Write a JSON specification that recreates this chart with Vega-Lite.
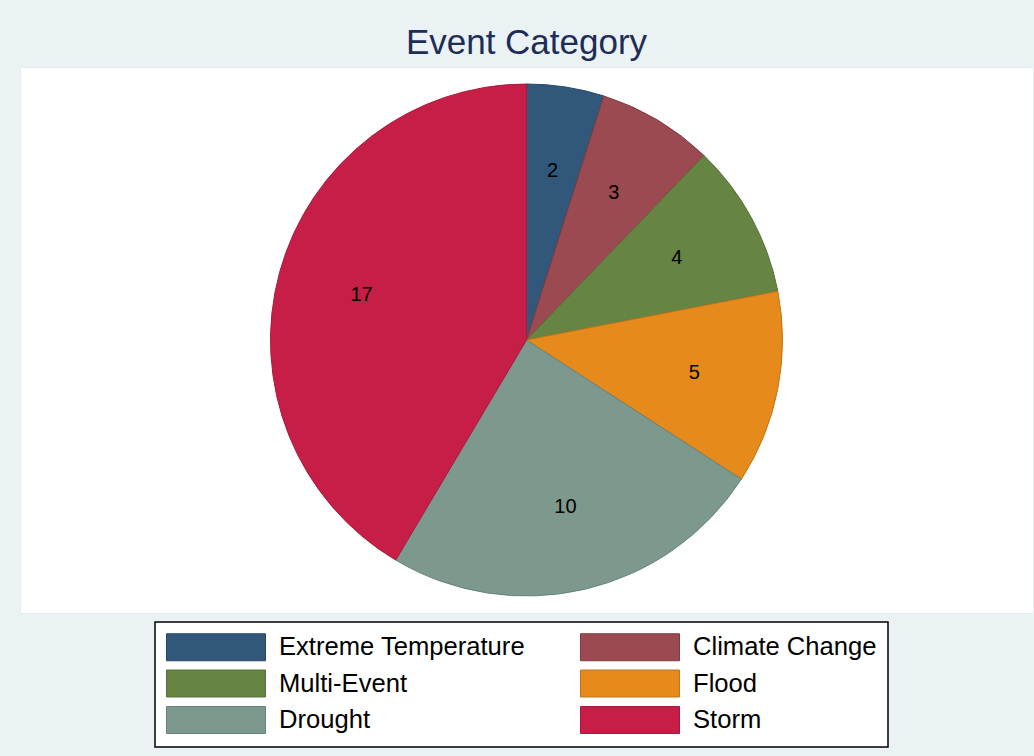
{
  "$schema": "https://vega.github.io/schema/vega-lite/v6.json",
  "width": 1013,
  "height": 546,
  "autosize": {"type": "none"},
  "padding": {"left": 20, "top": 67, "right": 1, "bottom": 143},
  "background": "#EAF2F3",
  "view": {"fill": "white", "stroke": "#E4ECEE", "strokeWidth": 1},
  "title": {
    "text": "Event Category",
    "fontSize": 35,
    "font": "Liberation Sans",
    "fontWeight": "normal",
    "color": "#1E2D55",
    "anchor": "middle",
    "offset": 6
  },
  "config": {
    "font": "Liberation Sans"
  },
  "data": {
    "values": [
      {"id": 1, "category": "Extreme Temperature", "count": 2},
      {"id": 2, "category": "Climate Change", "count": 3},
      {"id": 3, "category": "Multi-Event", "count": 4},
      {"id": 4, "category": "Flood", "count": 5},
      {"id": 5, "category": "Drought", "count": 10},
      {"id": 6, "category": "Storm", "count": 17}
    ]
  },
  "encoding": {
    "theta": {"field": "count", "type": "quantitative", "stack": true},
    "order": {"field": "id", "type": "quantitative"}
  },
  "layer": [
    {
      "mark": {"type": "arc", "outerRadius": 256, "strokeWidth": 1},
      "encoding": {
        "color": {
          "field": "category",
          "type": "nominal",
          "scale": {
            "domain": ["Extreme Temperature", "Climate Change", "Multi-Event", "Flood", "Drought", "Storm"],
            "range": ["#31587A", "#9A4A50", "#668442", "#E68A1C", "#7D998D", "#C71E47"]
          },
          "legend": {
            "title": null,
            "orient": "none",
            "legendX": 135,
            "legendY": 555,
            "columns": 2,
            "direction": "horizontal",
            "symbolType": "M-1,-1H6.333V1H-1Z",
            "symbolSize": 729,
            "symbolStrokeWidth": 1,
            "symbolOpacity": 1,
            "labelFont": "Liberation Sans",
            "labelFontSize": 25.6,
            "labelColor": "black",
            "labelOffset": 85,
            "labelLimit": 400,
            "columnPadding": 52,
            "rowPadding": 4.5,
            "padding": 11,
            "fillColor": "white",
            "strokeColor": "black",
            "cornerRadius": 0,
            "encode": {"legend": {"update": {"strokeWidth": {"value": 1.5}}}}
          }
        },
        "stroke": {
          "field": "category",
          "type": "nominal",
          "scale": {
            "domain": ["Extreme Temperature", "Climate Change", "Multi-Event", "Flood", "Drought", "Storm"],
            "range": ["#26496A", "#7F3A40", "#55703A", "#C2741A", "#66847A", "#A81A3C"]
          }
        }
      }
    },
    {
      "mark": {"type": "text", "radius": 171, "fontSize": 20, "color": "black", "font": "Liberation Sans"},
      "encoding": {
        "text": {"field": "count", "type": "quantitative"}
      }
    }
  ]
}
